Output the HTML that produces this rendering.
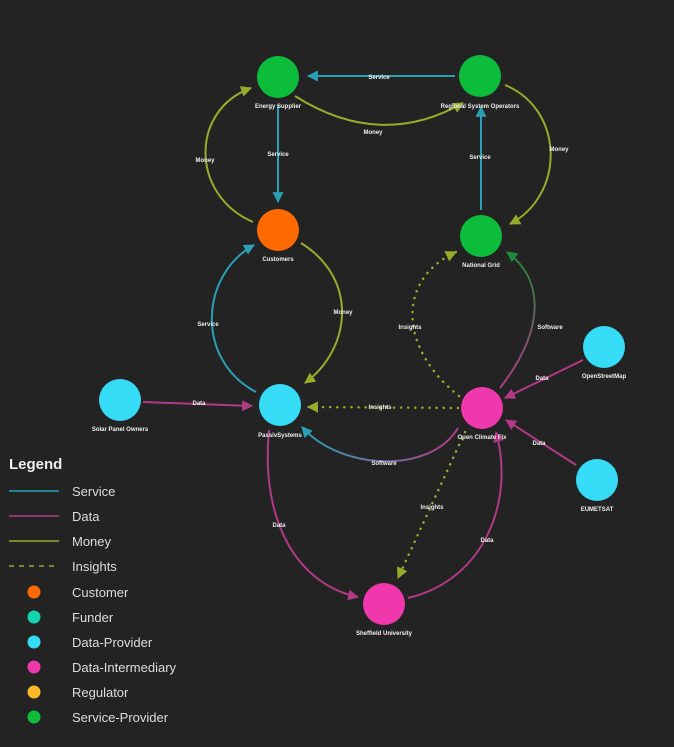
<!DOCTYPE html>
<html><head><style>
html,body{margin:0;padding:0;background:#232323;}
svg{display:block;}
.n{font:bold 6px "Liberation Sans",sans-serif;fill:#eee;text-anchor:middle;}
.e{font:bold 6px "Liberation Sans",sans-serif;fill:#eee;text-anchor:middle;}
.lg{font:13px "Liberation Sans",sans-serif;fill:#ddd;}
</style></head><body>
<svg width="674" height="747" viewBox="0 0 674 747" xmlns="http://www.w3.org/2000/svg">
<defs>
<marker id="as" viewBox="0 0 10 10" refX="9" refY="5" markerWidth="5.5" markerHeight="5.5" orient="auto"><path d="M0,0L10,5L0,10z" fill="#2a9fb5"/></marker>
<marker id="ad" viewBox="0 0 10 10" refX="9" refY="5" markerWidth="5.5" markerHeight="5.5" orient="auto"><path d="M0,0L10,5L0,10z" fill="#b03a85"/></marker>
<marker id="am" viewBox="0 0 10 10" refX="9" refY="5" markerWidth="5.5" markerHeight="5.5" orient="auto"><path d="M0,0L10,5L0,10z" fill="#9aab2c"/></marker>
<marker id="ami" viewBox="0 0 10 10" refX="9" refY="5" markerWidth="4.5" markerHeight="4.5" orient="auto"><path d="M0,0L10,5L0,10z" fill="#9aab2c"/></marker>
<marker id="ag" viewBox="0 0 10 10" refX="9" refY="5" markerWidth="5.5" markerHeight="5.5" orient="auto"><path d="M0,0L10,5L0,10z" fill="#1e8a3a"/></marker>
<linearGradient id="gs" x1="0" y1="1" x2="0" y2="0"><stop offset="0" stop-color="#b03a85"/><stop offset="1" stop-color="#1e8a3a"/></linearGradient>
<linearGradient id="gp" x1="1" y1="0" x2="0" y2="0"><stop offset="0" stop-color="#b03a85"/><stop offset="1" stop-color="#2a9fb5"/></linearGradient>
</defs>
<g fill="none" stroke-width="2">
<path d="M455,76 L308,76" stroke="#2a9fb5" marker-end="url(#as)"/>
<path d="M295,96 Q380,150 463,103" stroke="#9aab2c" marker-end="url(#am)"/>
<path d="M278,105 L278,202" stroke="#2a9fb5" marker-end="url(#as)"/>
<path d="M253,222 C190,195 190,110 251,88" stroke="#9aab2c" marker-end="url(#am)"/>
<path d="M481,210 L481,107" stroke="#2a9fb5" marker-end="url(#as)"/>
<path d="M505,85 C565,110 565,195 510,224" stroke="#9aab2c" marker-end="url(#am)"/>
<path d="M256,392 C195,360 200,275 254,245" stroke="#2a9fb5" marker-end="url(#as)"/>
<path d="M301,243 C360,280 350,350 305,383" stroke="#9aab2c" marker-end="url(#am)"/>
<path d="M143,402 L252,406" stroke="#b03a85" marker-end="url(#ad)"/>
<path d="M458,408 L308,407" stroke="#9aab2c" stroke-width="2.5" stroke-dasharray="0.1,7" stroke-linecap="round" marker-end="url(#ami)"/>
<path d="M458,428 C430,475 340,470 302,427" stroke="url(#gp)" marker-end="url(#as)"/>
<path d="M459,396 C400,350 395,280 456,252" stroke="#9aab2c" stroke-width="2.5" stroke-dasharray="0.1,7" stroke-linecap="round" marker-end="url(#ami)"/>
<path d="M500,388 C545,330 545,280 507,252" stroke="url(#gs)" marker-end="url(#ag)"/>
<path d="M583,360 L505,398" stroke="#b03a85" marker-end="url(#ad)"/>
<path d="M576,465 L506,420" stroke="#b03a85" marker-end="url(#ad)"/>
<path d="M269,430 C260,525 300,585 358,597" stroke="#b03a85" marker-end="url(#ad)"/>
<path d="M408,598 C485,580 515,500 496,432" stroke="#b03a85" marker-end="url(#ad)"/>
<path d="M465,432 L398,578" stroke="#9aab2c" stroke-width="2.5" stroke-dasharray="0.1,7" stroke-linecap="round" marker-end="url(#ami)"/>
</g>
<g>
<circle cx="278" cy="77" r="21" fill="#0bbd3a"/>
<circle cx="480" cy="76" r="21" fill="#0bbd3a"/>
<circle cx="278" cy="230" r="21" fill="#ff6a00"/>
<circle cx="481" cy="236" r="21" fill="#0bbd3a"/>
<circle cx="280" cy="405" r="21" fill="#36dcf5"/>
<circle cx="482" cy="408" r="21" fill="#ee38ac"/>
<circle cx="120" cy="400" r="21" fill="#36dcf5"/>
<circle cx="604" cy="347" r="21" fill="#36dcf5"/>
<circle cx="597" cy="480" r="21" fill="#36dcf5"/>
<circle cx="384" cy="604" r="21" fill="#ee38ac"/>
</g>
<g class="n">
<text x="278" y="108">Energy Supplier</text>
<text x="480" y="108">Regional System Operators</text>
<text x="278" y="261">Customers</text>
<text x="481" y="267">National Grid</text>
<text x="280" y="437">PassivSystems</text>
<text x="482" y="439">Open Climate Fix</text>
<text x="120" y="431">Solar Panel Owners</text>
<text x="604" y="378">OpenStreetMap</text>
<text x="597" y="511">EUMETSAT</text>
<text x="384" y="635">Sheffield University</text>
</g>
<g class="e">
<text x="379" y="79">Service</text>
<text x="373" y="134">Money</text>
<text x="278" y="156">Service</text>
<text x="205" y="162">Money</text>
<text x="480" y="159">Service</text>
<text x="559" y="151">Money</text>
<text x="208" y="326">Service</text>
<text x="343" y="314">Money</text>
<text x="410" y="329">Insights</text>
<text x="550" y="329">Software</text>
<text x="542" y="380">Data</text>
<text x="199" y="405">Data</text>
<text x="380" y="409">Insights</text>
<text x="384" y="465">Software</text>
<text x="539" y="445">Data</text>
<text x="432" y="509">Insights</text>
<text x="279" y="527">Data</text>
<text x="487" y="542">Data</text>
</g>
<text x="9" y="469" style="font:bold 15px 'Liberation Sans',sans-serif;fill:#eee">Legend</text>
<g stroke-width="1.5">
<line x1="9" y1="491" x2="59" y2="491" stroke="#2a9fb5"/>
<line x1="9" y1="516" x2="59" y2="516" stroke="#b03a85"/>
<line x1="9" y1="541" x2="59" y2="541" stroke="#9aab2c"/>
<line x1="9" y1="566" x2="59" y2="566" stroke="#9aab2c" stroke-dasharray="5,5"/>
</g>
<circle cx="34" cy="592" r="6.5" fill="#ff6a00"/>
<circle cx="34" cy="617" r="6.5" fill="#14d4b0"/>
<circle cx="34" cy="642" r="6.5" fill="#36dcf5"/>
<circle cx="34" cy="667" r="6.5" fill="#ee38ac"/>
<circle cx="34" cy="692" r="6.5" fill="#fbb829"/>
<circle cx="34" cy="717" r="6.5" fill="#0bbd3a"/>
<g class="lg">
<text x="72" y="496">Service</text>
<text x="72" y="521">Data</text>
<text x="72" y="546">Money</text>
<text x="72" y="571">Insights</text>
<text x="72" y="597">Customer</text>
<text x="72" y="622">Funder</text>
<text x="72" y="647">Data-Provider</text>
<text x="72" y="672">Data-Intermediary</text>
<text x="72" y="697">Regulator</text>
<text x="72" y="722">Service-Provider</text>
</g>
</svg>
</body></html>
